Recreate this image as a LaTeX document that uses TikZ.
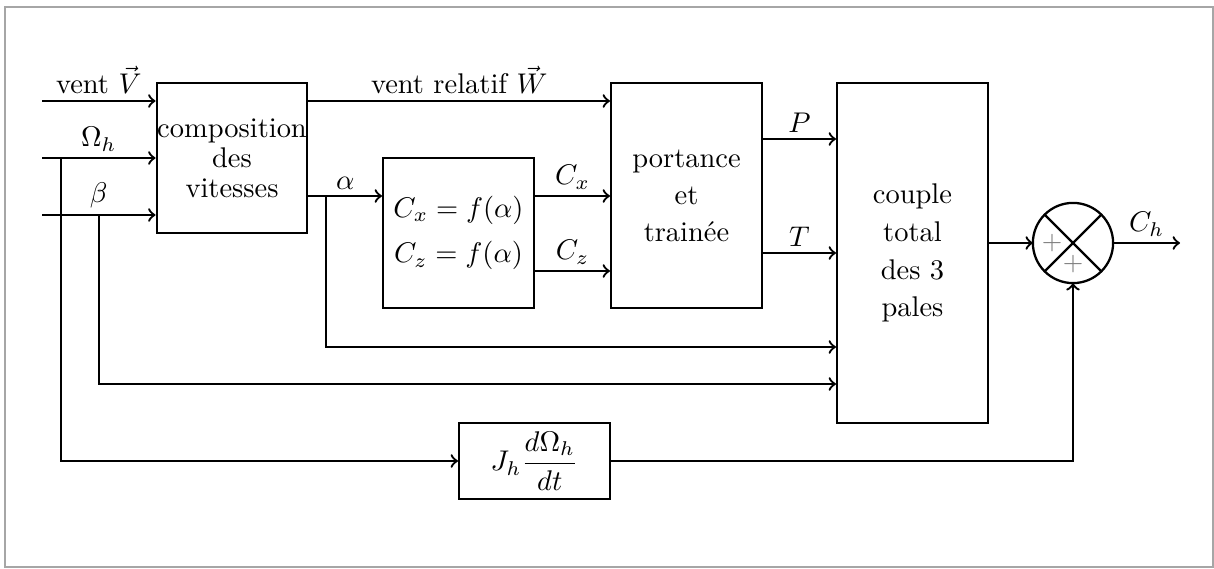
\documentclass[tikz,border=0pt]{standalone}
\usepackage{amsmath}
\usepackage{amssymb}
\usepackage{tikz}

\begin{document}
\begin{tikzpicture}[x=0.01235cm,y=-0.01235cm,
		bloc/.style={draw,thick,minimum width=1.86cm,align=center,inner sep=0pt},
		fleche/.style={->,thick},
		lbl/.style={above,inner sep=2pt}]
			\useasboundingbox (0,0) rectangle (1214,569);
			\draw[gray!70] (5,7) rectangle (1213,567);
			% blocs
			\node[bloc,minimum height=1.85cm] (comp) at (232,158) {composition\\[-1.5pt]des\\[-1.5pt]vitesses};
			\node[bloc,minimum height=1.85cm] (fbox) at (458.5,233) {$C_x = f(\alpha)$\\[4pt]$C_z = f(\alpha)$};
			\node[bloc,minimum height=2.78cm] (port) at (686.5,195.5) {portance\\[1pt]et\\[1pt]trainée};
			\node[bloc,minimum height=4.2cm] (couple) at (912.5,253) {couple\\[1.3pt]total\\[1.3pt]des 3\\[1.3pt]pales};
			\node[bloc,minimum height=0.94cm] (jbox) at (534.5,461) {$J_h\dfrac{d\Omega_h}{dt}$};
			\node[draw,thick,circle,minimum size=0.99cm,inner sep=0pt,outer sep=0pt] (sum) at (1073,243) {};
			\draw[thick] (sum.45) -- (sum.225) (sum.135) -- (sum.315);
			\node[gray,font=\small] (pl1) at (1052,243) {$+$};
			\node[gray,font=\small] (pl2) at (1073,264) {$+$};
			% points
			\coordinate (inV) at (42,101);
			\coordinate (inO) at (42,158);
			\coordinate (inB) at (42,215);
			\coordinate (oS) at (61,158);
			\coordinate (bS) at (99,215);
			\coordinate (bK) at (99,384);
			\coordinate (aS) at (326,196);
			\coordinate (aK) at (326,347);
			\coordinate (cx) at (572,196);
			\coordinate (cz) at (572,271);
			\coordinate (pp) at (800,139);
			\coordinate (tt) at (800,253);
			\coordinate (out) at (1180,243);
			% entrees
			\draw[fleche] (inV) -- node[lbl] {vent $\vec{V}$} (comp.west |- inV);
			\draw[fleche] (inO) -- node[lbl] {$\Omega_h$} (comp.west |- inO);
			\draw[fleche] (inB) -- node[lbl] {$\beta$} (comp.west |- inB);
			\draw[fleche] (oS) |- (jbox.west);
			\draw[fleche] (bS) -- (bK) -- (couple.west |- bK);
			% liaisons
			\draw[fleche] (comp.east |- inV) -- node[lbl] {vent relatif $\vec{W}$} (port.west |- inV);
			\draw[fleche] (comp.east |- aS) -- node[lbl] {$\alpha$} (fbox.west |- aS);
			\draw[fleche] (aS) -- (aK) -- (couple.west |- aK);
			\draw[fleche] (fbox.east |- cx) -- node[lbl] {$C_x$} (port.west |- cx);
			\draw[fleche] (fbox.east |- cz) -- node[lbl] {$C_z$} (port.west |- cz);
			\draw[fleche] (port.east |- pp) -- node[lbl] {$P$} (couple.west |- pp);
			\draw[fleche] (port.east |- tt) -- node[lbl] {$T$} (couple.west |- tt);
			\draw[fleche] (couple.east |- sum) -- (sum.west);
			\draw[fleche] (jbox.east) -| (sum.south);
			\draw[fleche] (sum.east) -- node[lbl] {$C_h$} (out);
	\end{tikzpicture}
\end{document}
